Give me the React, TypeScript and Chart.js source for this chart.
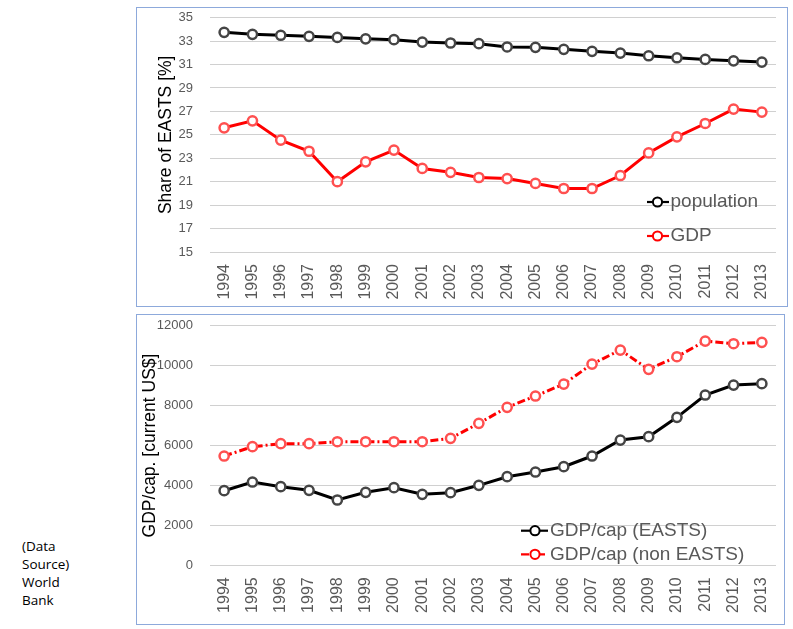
import React, { useEffect, useRef } from "react";
import { Chart, registerables } from "chart.js";

Chart.register(...registerables);

// ---------- data ----------
const years = [
  "1994", "1995", "1996", "1997", "1998", "1999", "2000", "2001", "2002", "2003",
  "2004", "2005", "2006", "2007", "2008", "2009", "2010", "2011", "2012", "2013",
];

const populationShare = [
  33.75, 33.58, 33.5, 33.41, 33.32, 33.2, 33.12, 32.92, 32.84, 32.78,
  32.5, 32.47, 32.3, 32.13, 31.98, 31.75, 31.58, 31.44, 31.32, 31.21,
];

const gdpShare = [
  25.6, 26.2, 24.55, 23.6, 21.0, 22.7, 23.7, 22.13, 21.8, 21.36,
  21.27, 20.85, 20.42, 20.42, 21.53, 23.46, 24.83, 25.97, 27.2, 26.94,
];

const gdpCapEasts = [
  3736, 4171, 3936, 3756, 3270, 3655, 3886, 3555, 3635, 4006,
  4437, 4672, 4937, 5473, 6274, 6440, 7411, 8528, 9028, 9094,
];

const gdpCapNonEasts = [
  5473, 5939, 6089, 6089, 6189, 6189, 6189, 6189, 6360, 7110,
  7912, 8478, 9078, 10080, 10781, 9815, 10446, 11232, 11097, 11167,
];

const shareAxis = { min: 15, max: 35, step: 2 };
const capAxis = { min: 0, max: 12000, step: 2000 };

const shareLabels = ["population", "GDP"];
const capLabels = ["GDP/cap (EASTS)", "GDP/cap (non EASTS)"];
const shareTitle = "Share of EASTS [%]";
const capTitle = "GDP/cap. [current US$]";
const sourceLines = ["(Data", "Source)", "World", "Bank"];

// ---------- styling ----------
const FONT = "'Liberation Sans', Arial, Helvetica, sans-serif";
const TICK_COLOR = "#595959";
const GRID_COLOR = "#d0d0d0";
const BOX_BORDER = "#8DA9DB";

Chart.defaults.font.family = FONT;

const lineLegend = {
  id: "lineLegend",
  afterDraw(chart: any, _args: any, opts: any) {
    const { ctx } = chart;
    const { x, y, rowGap, lineLen, circleAt, textGap, fontSize, color } = opts;
    chart.data.datasets.forEach((ds: any, i: number) => {
      const cy = y + i * rowGap;
      ctx.save();
      ctx.strokeStyle = ds.borderColor;
      ctx.lineWidth = 2.2;
      ctx.setLineDash(ds.borderDash ? opts.legendDash : []);
      ctx.beginPath();
      ctx.moveTo(x, cy);
      ctx.lineTo(x + lineLen, cy);
      ctx.stroke();
      ctx.setLineDash([]);
      ctx.beginPath();
      ctx.arc(x + circleAt, cy, 4.6, 0, Math.PI * 2);
      ctx.fillStyle = "#ffffff";
      ctx.fill();
      ctx.lineWidth = 2;
      ctx.strokeStyle = ds.borderColor;
      ctx.stroke();
      ctx.fillStyle = color;
      ctx.font = `${fontSize}px ${FONT}`;
      ctx.textBaseline = "middle";
      ctx.textAlign = "left";
      ctx.fillText(ds.label, x + lineLen + textGap, cy);
      ctx.restore();
    });
  },
};

function buildOptions(cfg: any) {
  return {
    responsive: false,
    animation: false as const,
    layout: { padding: { left: 0, right: cfg.padRight, top: cfg.padTop, bottom: 0 } },
    plugins: {
      legend: { display: false },
      tooltip: { enabled: false },
      lineLegend: cfg.legend,
    },
    scales: {
      x: {
        type: "category" as const,
        offset: true,
        grid: { display: false, drawTicks: false },
        border: { display: false },
        ticks: {
          autoSkip: false,
          minRotation: 90,
          maxRotation: 90,
          padding: 12,
          color: TICK_COLOR,
          font: { size: 16, family: FONT },
        },
        afterFit(scale: any) {
          scale.height = cfg.xHeight;
          scale.paddingLeft = 0;
          scale.paddingRight = 0;
        },
      },
      y: {
        min: cfg.axis.min,
        max: cfg.axis.max,
        grid: { color: GRID_COLOR, lineWidth: 1, drawTicks: false },
        border: { display: false },
        ticks: {
          stepSize: cfg.axis.step,
          padding: 17,
          color: TICK_COLOR,
          font: { size: 13, family: FONT },
          callback: (v: any) => String(v),
        },
        title: {
          display: true,
          text: cfg.title,
          color: "#000000",
          font: { size: 17.5, family: FONT },
          padding: { top: cfg.titlePad, bottom: 0 },
        },
        afterFit(scale: any) {
          scale.width = 73;
          scale.paddingTop = 0;
          scale.paddingBottom = 0;
        },
      },
    },
  };
}

function solidDataset(label: string, data: number[], color: string, pointColor: string) {
  return {
    label,
    data,
    borderColor: color,
    borderWidth: 3,
    tension: 0,
    pointRadius: 4.6,
    pointBorderWidth: 2.5,
    pointBorderColor: pointColor,
    pointBackgroundColor: "#ffffff",
  };
}

function LineChartBox(props: {
  left: number;
  top: number;
  width: number;
  height: number;
  build: () => any;
}) {
  const ref = useRef<HTMLCanvasElement | null>(null);
  useEffect(() => {
    if (!ref.current) return;
    const chart = new Chart(ref.current, props.build());
    return () => chart.destroy();
  }, []);
  return (
    <div
      style={{
        position: "absolute",
        left: props.left,
        top: props.top,
        width: props.width,
        height: props.height,
        border: `1px solid ${BOX_BORDER}`,
        boxSizing: "border-box",
        background: "#fff",
      }}
    >
      <canvas
        ref={ref}
        width={props.width - 2}
        height={props.height - 2}
        style={{ display: "block", width: props.width - 2, height: props.height - 2 }}
      />
    </div>
  );
}

export default function App() {
  const buildTop = () => ({
    type: "line" as const,
    data: {
      labels: years,
      datasets: [
        solidDataset(shareLabels[0], populationShare, "#000000", "#454545"),
        solidDataset(shareLabels[1], gdpShare, "#ff0000", "#ff5050"),
      ],
    },
    options: buildOptions({
      axis: shareAxis,
      title: shareTitle,
      titlePad: 18.8,
      padRight: 11,
      padTop: 9.7,
      xHeight: 54,
      legend: {
        x: 510,
        y: 194,
        rowGap: 34,
        lineLen: 22,
        circleAt: 10.5,
        textGap: 1.5,
        fontSize: 19,
        color: TICK_COLOR,
        legendDash: [],
      },
    }),
    plugins: [lineLegend],
  });

  const buildBottom = () => ({
    type: "line" as const,
    data: {
      labels: years,
      datasets: [
        solidDataset(capLabels[0], gdpCapEasts, "#000000", "#454545"),
        {
          ...solidDataset(capLabels[1], gdpCapNonEasts, "#ff0000", "#ff5050"),
          borderDash: [8, 3, 2, 3],
        },
      ],
    },
    options: buildOptions({
      axis: capAxis,
      title: capTitle,
      titlePad: 2.2,
      padRight: 8,
      padTop: 10.7,
      xHeight: 58.7,
      legend: {
        x: 384,
        y: 215.7,
        rowGap: 23.6,
        lineLen: 27,
        circleAt: 14,
        textGap: 2,
        fontSize: 19,
        color: TICK_COLOR,
        legendDash: [8, 3, 2, 3],
      },
    }),
    plugins: [lineLegend],
  });

  return (
    <div style={{ position: "absolute", left: 0, top: 0, width: 793, height: 629 }}>
      <LineChartBox left={136} top={7} width={652} height={300} build={buildTop} />
      <LineChartBox left={136} top={314} width={649} height={311} build={buildBottom} />
      <div
        style={{
          position: "absolute",
          left: 22,
          top: 537,
          fontFamily: "'Open Sans', 'Noto Sans', sans-serif",
          fontSize: 13.5,
          lineHeight: "18px",
          color: "#000",
        }}
      >
        {sourceLines.map((l, i) => (
          <div key={i}>{l}</div>
        ))}
      </div>
    </div>
  );
}
